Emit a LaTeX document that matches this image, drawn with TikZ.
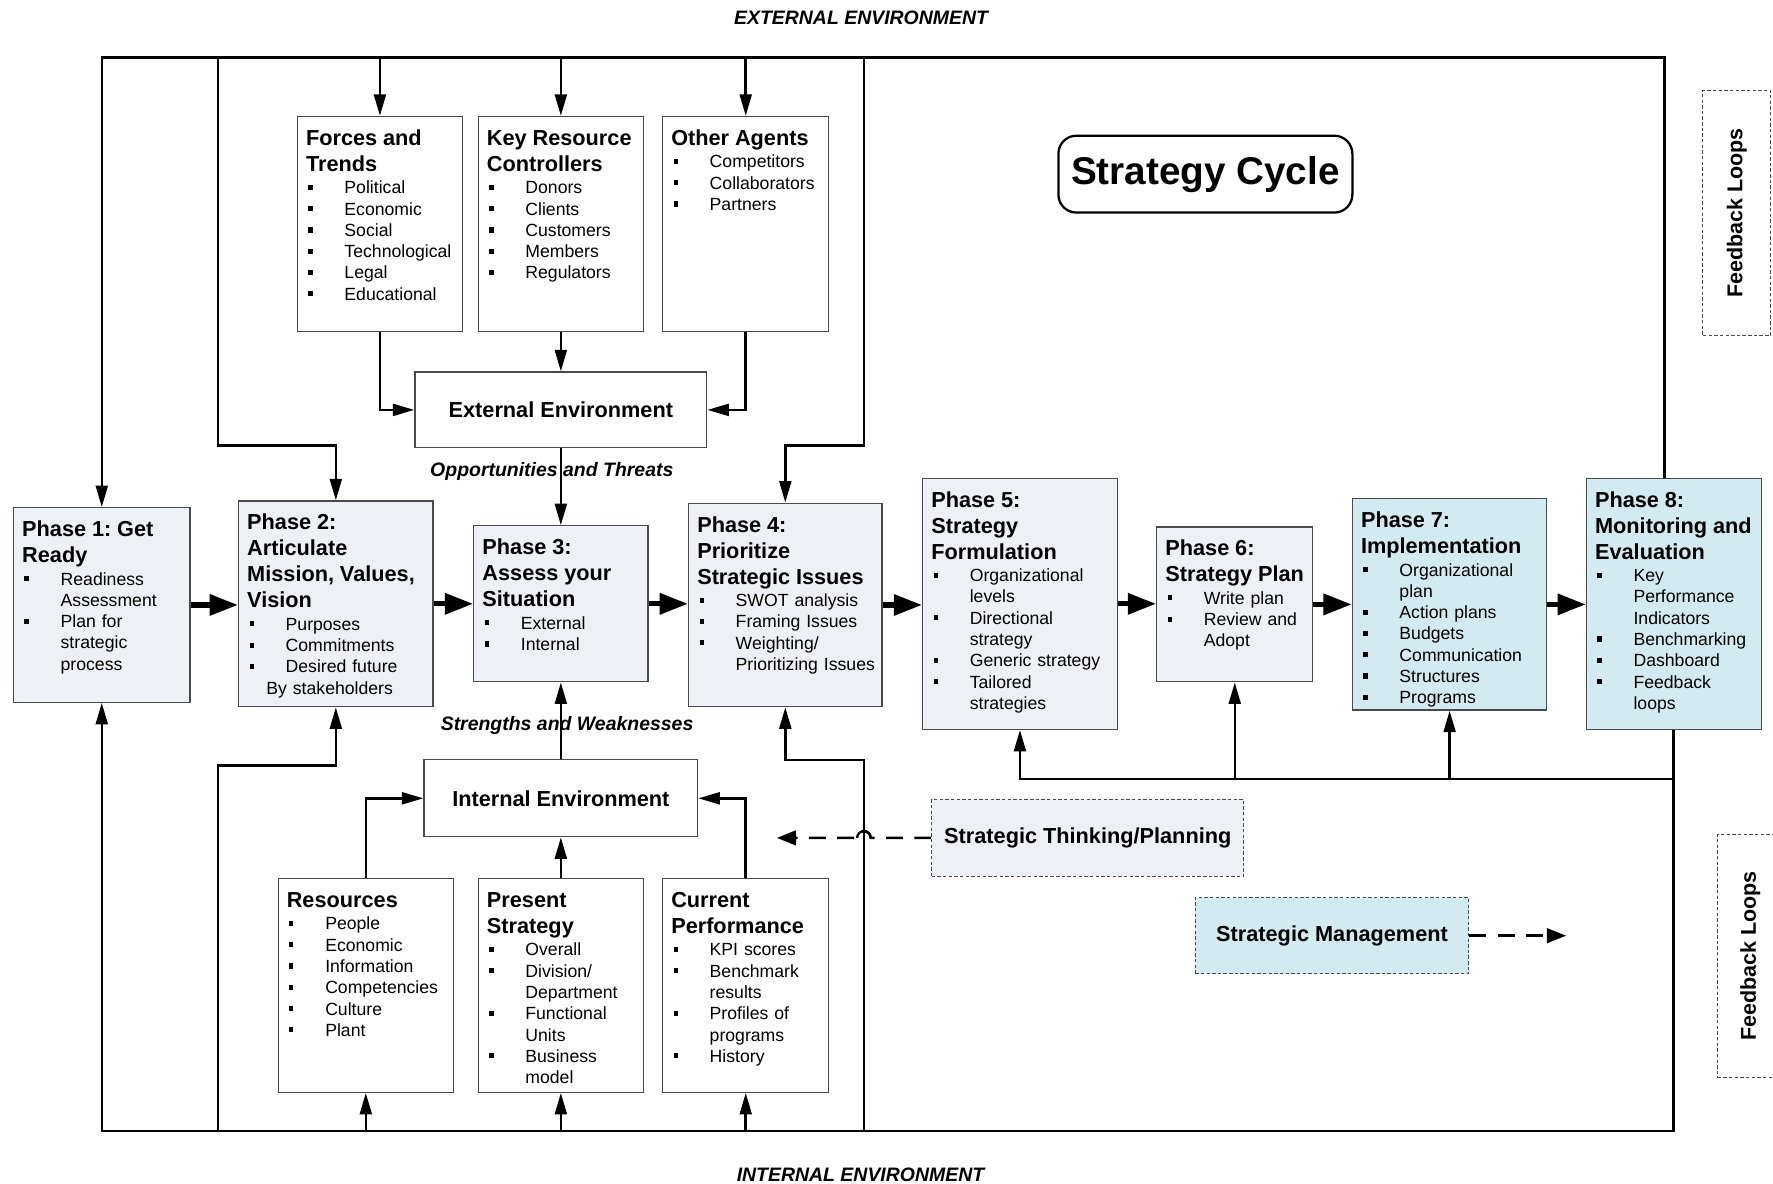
\documentclass[tikz,border=0pt]{standalone}
\usepackage{fontspec}
\setmainfont{Liberation Sans}
\usetikzlibrary{arrows.meta}

\definecolor{phasefill}{HTML}{EDF0F5}
\definecolor{implfill}{HTML}{D3EAF0}
\definecolor{edge}{HTML}{4A4A4A}

\frenchspacing

% type sizes
\newcommand\bodyfont{\fontsize{15.6}{18.8}\selectfont}
\newcommand\headfont{\fontsize{19.2}{23}\selectfont\bfseries}
\newcommand\envfont{\fontsize{17.2}{20}\selectfont\bfseries\itshape}
\newcommand\titlefont{\fontsize{34.2}{40}\selectfont\bfseries}
\newcommand\fbfont{\fontsize{19}{22}\selectfont\bfseries}

% list helpers for the boxes: heading, bulleted line, continuation line
\newcommand\bul{\raisebox{3.4pt}{\rule{3.8pt}{4.6pt}}}
\newcommand\hd[1]{\par\noindent{\headfont #1\par}\vspace{1pt}}
\newcommand\bi[1]{\par\noindent\makebox[34pt][l]{\hspace{2pt}\bul}#1\par}
\newcommand\bc[1]{\par\noindent\hspace*{34pt}#1\par}

% a framed box given by its corners, with top-left aligned text
\newcommand\panel[7]{%
  \node[#6, minimum width={(#4-#2)*1pt}, minimum height={(#5-#3)*1pt}] (#1) at ({(#2+#4)/2},{(#3+#5)/2}) {};
  \node[anchor=north west, inner sep=0pt, text width=220pt, align=left, font=\bodyfont] (#1-txt)
    at ([xshift=8pt,yshift=-3pt]#1.north west) {#7};
}

\begin{document}
\begin{tikzpicture}[x=1pt,y=-1pt,
  box/.style={draw=edge, line width=1.1pt, fill=white, inner sep=0pt},
  phase/.style={box, fill=phasefill},
  impl/.style={box, fill=implfill},
  dbox/.style={draw=edge, line width=0.9pt, dash pattern=on 3pt off 2pt, inner sep=0pt},
  conn/.style={line width=2.2pt, -{Triangle[length=19pt,width=10.5pt]}},
  flow/.style={line width=4.6pt, -{Triangle[length=25pt,width=18pt]}},
  dflow/.style={line width=2.2pt, dash pattern=on 15pt off 10pt, -{Triangle[length=17pt,width=13pt]}},
]
\useasboundingbox (0,0) rectangle (1568,1047);

% ---------- environment sources ----------
\panel{forces}{263}{103}{409}{293}{box}{\hd{Forces and\\Trends}\bi{Political}\bi{Economic}\bi{Social}\bi{Technological}\bi{Legal}\bi{Educational}}
\panel{key}{423}{103}{569}{293}{box}{\hd{Key Resource\\Controllers}\bi{Donors}\bi{Clients}\bi{Customers}\bi{Members}\bi{Regulators}}
\panel{other}{586}{103}{733}{293}{box}{\hd{Other Agents}\bi{Competitors}\bi{Collaborators}\bi{Partners}}

\panel{res}{246}{777}{401}{966}{box}{\hd{Resources}\bi{People}\bi{Economic}\bi{Information}\bi{Competencies}\bi{Culture}\bi{Plant}}
\panel{pres}{423}{777}{569}{966}{box}{\hd{Present\\Strategy}\bi{Overall}\bi{Division/}\bc{Department}\bi{Functional}\bc{Units}\bi{Business}\bc{model}}
\panel{cur}{586}{777}{733}{966}{box}{\hd{Current\\Performance}\bi{KPI scores}\bi{Benchmark}\bc{results}\bi{Profiles of}\bc{programs}\bi{History}}

\node[box, minimum width=258pt, minimum height=67pt, font=\headfont] (ext) at (496,362.5) {External Environment};
\node[box, minimum width=242pt, minimum height=68pt, font=\headfont] (int) at (496,706) {Internal Environment};

% ---------- phases ----------
\panel{p1}{12}{449}{168}{621}{phase}{\hd{Phase 1: Get\\Ready}\bi{Readiness}\bc{Assessment}\bi{Plan for}\bc{strategic}\bc{process}}
\panel{p2}{211}{443}{383}{625}{phase}{\hd{Phase 2:\\Articulate\\Mission, Values,\\Vision}\bi{Purposes}\bi{Commitments}\bi{Desired future}\noindent\hspace*{17pt}By stakeholders}
\panel{p3}{419}{465}{573}{603}{phase}{\hd{Phase 3:\\Assess your\\Situation}\bi{External}\bi{Internal}}
\panel{p4}{609}{445}{780}{625}{phase}{\hd{Phase 4:\\Prioritize\\Strategic Issues}\bi{SWOT analysis}\bi{Framing Issues}\bi{Weighting/}\bc{Prioritizing Issues}}
\panel{p5}{816}{423}{988}{645}{phase}{\hd{Phase 5:\\Strategy\\Formulation}\bi{Organizational}\bc{levels}\bi{Directional}\bc{strategy}\bi{Generic strategy}\bi{Tailored}\bc{strategies}}
\panel{p6}{1023}{466}{1161}{603}{phase}{\hd{Phase 6:\\Strategy Plan}\bi{Write plan}\bi{Review and}\bc{Adopt}}
\panel{p7}{1196}{441}{1368}{628}{impl}{\hd{Phase 7:\\Implementation}\bi{Organizational}\bc{plan}\bi{Action plans}\bi{Budgets}\bi{Communication}\bi{Structures}\bi{Programs}}
\panel{p8}{1403}{423}{1558}{645}{impl}{\hd{Phase 8:\\Monitoring and\\Evaluation}\bi{Key}\bc{Performance}\bc{Indicators}\bi{Benchmarking}\bi{Dashboard}\bi{Feedback}\bc{loops}}

% ---------- title and side notes ----------
\node[draw, line width=2pt, rounded corners=16pt, minimum width=260pt, minimum height=68pt, font=\titlefont] (title) at (1066,154) {Strategy Cycle};

\node[dbox, fill=phasefill, minimum width=276pt, minimum height=68pt, font=\headfont] (stp) at (962,741) {Strategic Thinking/Planning};
\node[dbox, fill=implfill, minimum width=242pt, minimum height=67pt, font=\headfont] (sm) at (1178,827.5) {Strategic Management};

\node[dbox, minimum width=60pt, minimum height=217pt] (fl1) at (1536,188.5) {};
\node[rotate=90, font=\fbfont] (fl1-txt) at (fl1) {Feedback Loops};
\node[dbox, minimum width=58pt, minimum height=215pt] (fl2) at (1548,845.5) {};
\node[rotate=90, font=\fbfont] (fl2-txt) at (fl2) {Feedback Loops};

% ---------- frame corners and bends ----------
\coordinate (TL) at (90,51);
\coordinate (TR) at (1472,51);
\coordinate (BL) at (90,1000);
\coordinate (BR) at (1480,1000);
\coordinate (la) at (193,51);
\coordinate (lb) at (193,394);
\coordinate (lc) at (193,1000);
\coordinate (ld) at (193,677);
\coordinate (ra) at (764,51);
\coordinate (rb) at (764,394);
\coordinate (rc) at (764,1000);
\coordinate (rd) at (764,672);
\coordinate (fb) at (1480,689);
\coordinate (hopR) at (770,741);
\coordinate (stpEnd) at (687,741);
\coordinate (smEnd) at (1385,827.5);

% outer loops
\draw[conn] (TR |- p8.north) -- (TR) -- (TL) -- (p1.north);
\draw[conn] (BR |- p8.south) -- (BR) -- (BL) -- (p1.south);
\draw[conn] (la) -- (lb) -- (lb -| p2.north) -- (p2.north);
\draw[conn] (ra) -- (rb) -- (rb -| p4.north) -- (p4.north);
\draw[conn] (lc) -- (ld) -- (ld -| p2.south) -- (p2.south);
\draw[conn] (rc) -- (rd) -- (rd -| p4.south) -- (p4.south);

% feedback into phases 5-7
\draw[conn] (fb) -- (fb -| p5.south) -- (p5.south);
\draw[conn] (fb -| p6.south) -- (p6.south);
\draw[conn] (fb -| p7.south) -- (p7.south);

% external side
\draw[conn] (TL -| forces.north) -- (forces.north);
\draw[conn] (TL -| key.north) -- (key.north);
\draw[conn] (TL -| other.north) -- (other.north);
\draw[conn] (forces.south) -- (forces.south |- ext.west) -- (ext.west);
\draw[conn] (key.south) -- (ext.north);
\draw[conn] (other.south) -- (other.south |- ext.east) -- (ext.east);
\draw[conn] (ext.south) -- (p3.north);

% internal side
\draw[conn] (int.north) -- (p3.south);
\draw[conn] (res.north) -- (res.north |- int.west) -- (int.west);
\draw[conn] (pres.north) -- (int.south);
\draw[conn] (cur.north) -- (cur.north |- int.east) -- (int.east);
\draw[conn] (BL -| res.south) -- (res.south);
\draw[conn] (BL -| pres.south) -- (pres.south);
\draw[conn] (BL -| cur.south) -- (cur.south);

% main sequence of phases
\draw[flow] (p1.east) -- (p1.east -| p2.west);
\draw[flow] (p2.east) -- (p2.east -| p3.west);
\draw[flow] (p3.east) -- (p3.east -| p4.west);
\draw[flow] (p4.east) -- (p4.east -| p5.west);
\draw[flow] (p5.east) -- (p5.east -| p6.west);
\draw[flow] (p6.east) -- (p6.east -| p7.west);
\draw[flow] (p7.east) -- (p7.east -| p8.west);

% dashed links
\draw[dflow] (stp.west) -- (hopR) arc[start angle=0, end angle=180, radius=6pt] -- (stpEnd);
\draw[line width=2pt] (hopR) arc[start angle=0, end angle=180, radius=6pt];
\draw[dflow] (sm.east) -- (smEnd);

% labels
\node[font=\envfont] (extlbl) at (761.5,16) {EXTERNAL ENVIRONMENT};
\node[font=\envfont] (intlbl) at (761,1039) {INTERNAL ENVIRONMENT};
\node[font=\envfont] (otlbl) at (488,417) {Opportunities and Threats};
\node[font=\envfont] (swlbl) at (501.5,642) {Strengths and Weaknesses};
\end{tikzpicture}
\end{document}
